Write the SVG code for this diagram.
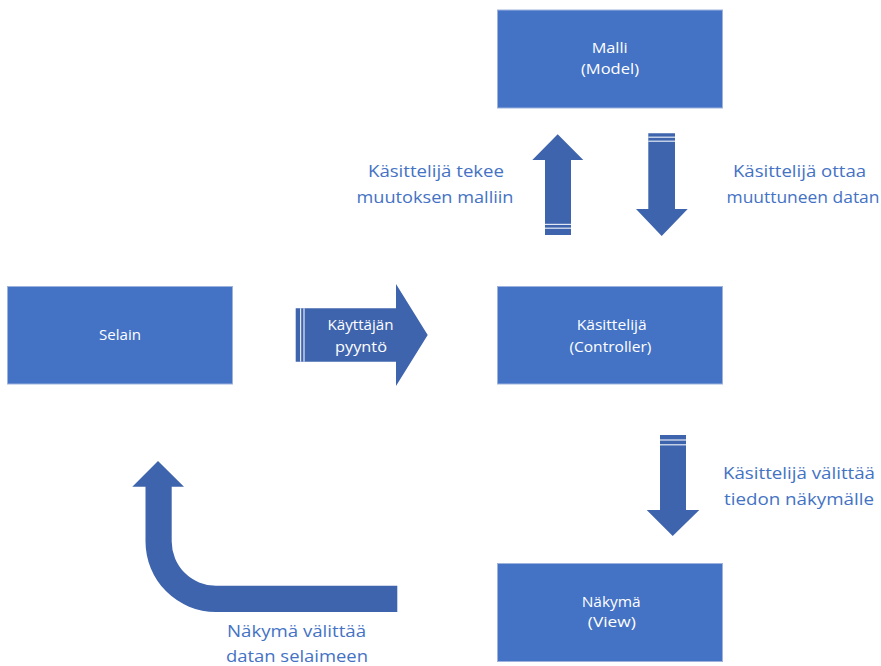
<svg xmlns="http://www.w3.org/2000/svg" width="881" height="666" viewBox="0 0 881 666">
<style>
.box{fill:#4472C4;stroke:#9DB3DD;stroke-width:1}
.arrow{fill:#3E64AD}
.stripe{fill:#FFFFFF;opacity:0.85}
.bt{font-family:"Open Sans","Liberation Sans",sans-serif;font-size:15px;fill:#FFFFFF;text-anchor:middle}
.lbl{font-family:"Open Sans","Liberation Sans",sans-serif;font-size:16px;fill:#4472C4;text-anchor:middle}
</style>
<rect width="881" height="666" fill="#FFFFFF"/>
<g id="connectors">
  <g id="arrow-up">
    <path class="arrow" d="M557.7,134.3 L583.3,160 L571,160 L571,235 L545,235 L545,160 L532.3,160 Z"/>
    <rect class="stripe" x="545" y="223.8" width="26" height="1.2"/>
    <rect class="stripe" x="545" y="227.6" width="26" height="1.2"/>
  </g>
  <g id="arrow-down-model">
    <path class="arrow" d="M648.3,133.3 L675,133.3 L675,209 L687.7,209 L661.7,236 L636,209 L648.3,209 Z"/>
    <rect class="stripe" x="648.3" y="136.6" width="26.7" height="1.2"/>
    <rect class="stripe" x="648.3" y="140.6" width="26.7" height="1.2"/>
  </g>
  <g id="arrow-right">
    <path class="arrow" d="M295.7,308.3 L396,308.3 L396,284 L427.7,335 L396,386 L396,361.7 L295.7,361.7 Z"/>
    <rect class="stripe" x="300" y="308.3" width="1.2" height="53.4"/>
    <rect class="stripe" x="303.4" y="308.3" width="1.2" height="53.4"/>
    <text class="bt" x="360.5" y="330" textLength="66" lengthAdjust="spacingAndGlyphs">Käyttäjän</text>
    <text class="bt" x="361" y="351.5" textLength="52" lengthAdjust="spacingAndGlyphs">pyyntö</text>
  </g>
  <g id="arrow-down-view">
    <path class="arrow" d="M660,435 L686,435 L686,510 L699.3,510 L672.7,536 L646.7,510 L660,510 Z"/>
    <rect class="stripe" x="660" y="439.4" width="26" height="1.2"/>
    <rect class="stripe" x="660" y="444.2" width="26" height="1.2"/>
  </g>
  <g id="arrow-curved">
    <path class="arrow" d="M158,461 L184,486.7 L171.7,486.7 L171.7,541.5 A44.3,44.3 0 0 0 216,585.8 L397.3,585.8 L397.3,612 L216,612 A70.5,70.5 0 0 1 145.5,541.5 L145.5,486.7 L132.3,486.7 Z"/>
  </g>
  <g id="labels">
    <text class="lbl" x="436" y="176.5" textLength="136" lengthAdjust="spacingAndGlyphs">Käsittelijä tekee</text>
    <text class="lbl" x="435" y="202.5" textLength="157" lengthAdjust="spacingAndGlyphs">muutoksen malliin</text>
    <text class="lbl" x="799.5" y="176.5" textLength="133" lengthAdjust="spacingAndGlyphs">Käsittelijä ottaa</text>
    <text class="lbl" x="803" y="202.5" textLength="153" lengthAdjust="spacingAndGlyphs">muuttuneen datan</text>
    <text class="lbl" x="799" y="478.5" textLength="152" lengthAdjust="spacingAndGlyphs">Käsittelijä välittää</text>
    <text class="lbl" x="799" y="504.5" textLength="150" lengthAdjust="spacingAndGlyphs">tiedon näkymälle</text>
    <text class="lbl" x="296.5" y="637" textLength="139" lengthAdjust="spacingAndGlyphs">Näkymä välittää</text>
    <text class="lbl" x="297" y="662" textLength="142" lengthAdjust="spacingAndGlyphs">datan selaimeen</text>
  </g>
</g>
<g id="node-malli">
  <rect class="box" x="497.5" y="10" width="225" height="98"/>
  <text class="bt" x="609.7" y="53.3" textLength="36" lengthAdjust="spacingAndGlyphs">Malli</text>
  <text class="bt" x="610" y="74.3" textLength="58" lengthAdjust="spacingAndGlyphs">(Model)</text>
</g>
<g id="node-selain">
  <rect class="box" x="7.5" y="286.5" width="225" height="97.5"/>
  <text class="bt" x="120" y="340" textLength="42" lengthAdjust="spacingAndGlyphs">Selain</text>
</g>
<g id="node-kasittelija">
  <rect class="box" x="497.5" y="286.5" width="225" height="97.5"/>
  <text class="bt" x="611.7" y="330" textLength="70" lengthAdjust="spacingAndGlyphs">Käsittelijä</text>
  <text class="bt" x="610.4" y="351.7" textLength="82" lengthAdjust="spacingAndGlyphs">(Controller)</text>
</g>
<g id="node-nakyma">
  <rect class="box" x="497.5" y="563.5" width="225" height="98"/>
  <text class="bt" x="611.2" y="606.7" textLength="59" lengthAdjust="spacingAndGlyphs">Näkymä</text>
  <text class="bt" x="611.8" y="626.7" textLength="48" lengthAdjust="spacingAndGlyphs">(View)</text>
</g>
</svg>
